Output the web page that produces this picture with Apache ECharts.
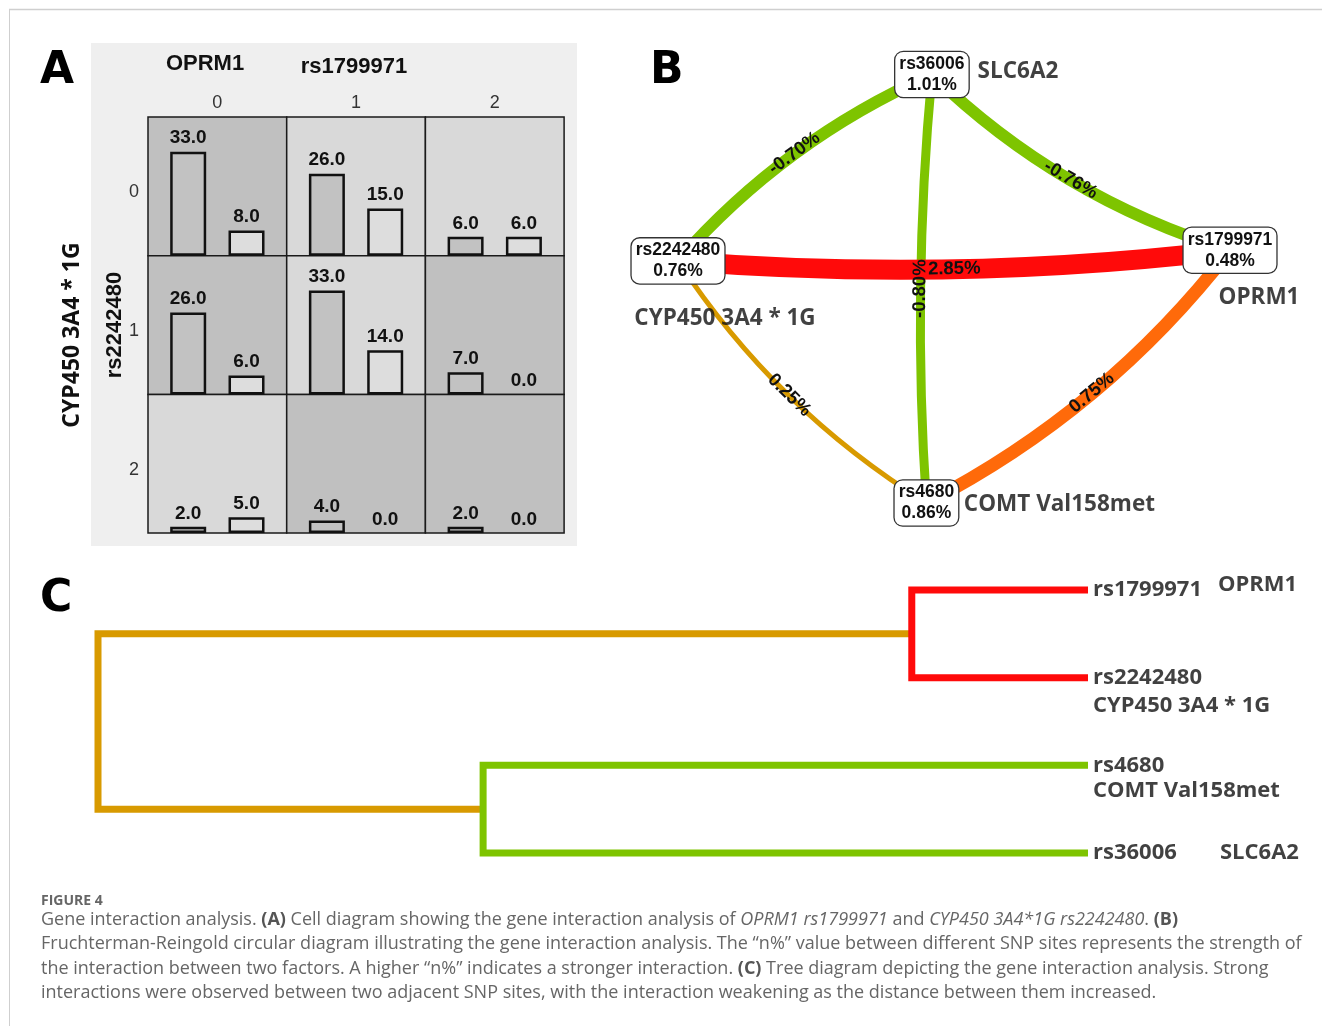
<!DOCTYPE html>
<html>
<head>
<meta charset="utf-8">
<script src="https://cdn.jsdelivr.net/npm/echarts@6/dist/echarts.min.js"></script>
<style>
  html, body { margin: 0; padding: 0; background: #ffffff; }
  #chart { width: 1322px; height: 1026px; }
</style>
</head>
<body>
<div id="chart"></div>
<script>
// ---- Panel A: case / control counts for each genotype combination ----
const rs1799971Genotypes = ['0', '1', '2'];          // columns (OPRM1)
const rs2242480Genotypes = ['0', '1', '2'];          // rows (CYP450 3A4*1G)
const caseCounts    = [[33, 26, 6], [26, 33, 7], [2, 4, 2]];
const controlCounts = [[8, 15, 6], [6, 14, 0], [5, 0, 0]];

// ---- Panel B: interaction network ----
const snpIds     = ['rs36006', 'rs2242480', 'rs1799971', 'rs4680'];
const snpGenes   = ['SLC6A2', 'CYP450 3A4 * 1G', 'OPRM1', 'COMT Val158met'];
const snpEntropy = [1.01, 0.76, 0.48, 0.86];
const nodeCircleX = [-0.08, -1.0, 1.0, -0.10];
const nodeCircleY = [1.0, 0.13, 0.18, -1.0];
const linkSource  = ['rs2242480', 'rs36006', 'rs36006', 'rs2242480', 'rs2242480', 'rs1799971'];
const linkTarget  = ['rs36006', 'rs1799971', 'rs4680', 'rs1799971', 'rs4680', 'rs4680'];
const linkEntropy = [-0.70, -0.76, -0.80, 2.85, 0.25, 0.75];

// ---- Panel C: dendrogram ----
const leafIds      = ['rs1799971', 'rs2242480', 'rs4680', 'rs36006'];
const leafGenes    = ['OPRM1', 'CYP450 3A4 * 1G', 'COMT Val158met', 'SLC6A2'];
const mergeHeights = [0.178, 0.611, 1.0];   // {rs1799971, rs2242480}, {rs4680, rs36006}, root

// ---------------- styling ----------------
const ARIAL = 'Liberation Sans';
const HEAVY = 'Open Sans';
const RED = '#ff0a0a', GREEN = '#7ec400', GOLD = '#d89a00', ORANGE = '#ff6a0a';

function interactionColor(v) {
  if (v < 0) return GREEN;
  if (v < 0.5) return GOLD;
  if (v < 1.5) return ORANGE;
  return RED;
}
const linkWidths = [12, 12, 9, 20, 5, 13];
const linkCurves = [0.11, -0.12, -0.04, -0.05, -0.11, 0.11];

const chart = echarts.init(document.getElementById('chart'), null, { renderer: 'canvas' });

const grids = [], xAxes = [], yAxes = [], series = [];

// Panel A cells
const totalCases = caseCounts.flat().reduce((a, b) => a + b, 0);
const totalControls = controlCounts.flat().reduce((a, b) => a + b, 0);
const riskThreshold = totalCases / totalControls;
const cellSize = 138.7;
const cellLeft = 148, cellTop = 117;
const countMax = 44;
const barLabel = {
  show: true, position: 'top', distance: 4,
  fontFamily: ARIAL, fontWeight: 'bold', fontSize: 19, color: '#111',
  formatter: p => Number(p.value).toFixed(1)
};

rs2242480Genotypes.forEach((rowG, r) => {
  rs1799971Genotypes.forEach((colG, c) => {
    const idx = grids.length;
    const ca = caseCounts[r][c], co = controlCounts[r][c];
    const highRisk = co === 0 ? ca > 0 : ca / co > riskThreshold;
    grids.push({
      left: cellLeft + c * cellSize, top: cellTop + r * cellSize,
      width: cellSize, height: cellSize,
      show: true, backgroundColor: highRisk ? '#c0c0c0' : '#d9d9d9',
      borderColor: '#1a1a1a', borderWidth: 1.5
    });
    xAxes.push({
      gridIndex: idx, type: 'category', data: [colG], position: 'top',
      axisLine: { show: false }, axisTick: { show: false }, splitLine: { show: false },
      axisLabel: { show: r === 0, fontFamily: ARIAL, fontSize: 18, color: '#333', margin: 5 }
    });
    yAxes.push({
      gridIndex: idx, type: 'value', min: 0, max: countMax,
      axisLine: { show: false }, axisTick: { show: false }, axisLabel: { show: false },
      splitLine: { show: false },
      name: c === 0 ? rowG : '', nameLocation: 'middle', nameRotate: 0, nameGap: 9,
      nameTextStyle: { fontFamily: ARIAL, fontSize: 18, color: '#333', align: 'right', verticalAlign: 'top', lineHeight: 12 }
    });
    [[ca, '#c2c2c2'], [co, '#dddddd']].forEach(([v, fill]) => {
      series.push({
        type: 'bar', xAxisIndex: idx, yAxisIndex: idx,
        barWidth: 36, barGap: '62%', silent: true,
        itemStyle: { color: fill, borderColor: '#111', borderWidth: 2.5 },
        label: barLabel,
        data: [{ value: v, itemStyle: { borderWidth: v > 0 ? 2.5 : 0 } }]
      });
    });
  });
});

// Panel B network on a hidden cartesian frame
const netGrid = grids.length;
grids.push({ left: 678, top: 74.5, width: 552, height: 428.5, show: false });
xAxes.push({ gridIndex: netGrid, type: 'value', min: -1, max: 1, show: false });
yAxes.push({ gridIndex: netGrid, type: 'value', min: -1, max: 1, show: false });

series.push({
  type: 'graph', coordinateSystem: 'cartesian2d',
  xAxisIndex: netGrid, yAxisIndex: netGrid,
  symbol: 'circle', symbolSize: 1, silent: true, z: 3,
  itemStyle: { color: 'rgba(0,0,0,0)' },
  label: {
    show: true, position: 'inside',
    fontFamily: ARIAL, fontWeight: 'bold', fontSize: 17.5, lineHeight: 21, color: '#111',
    backgroundColor: '#ffffff', borderColor: '#333', borderWidth: 1.3, borderRadius: 8,
    padding: [2, 4, 1, 4],
    formatter: p => snpIds[p.dataIndex] + '\n' + snpEntropy[p.dataIndex].toFixed(2) + '%'
  },
  edgeLabel: {
    show: true, position: 'middle', distance: -9,
    fontFamily: ARIAL, fontWeight: 'bold', fontSize: 18.5, color: '#111',
    formatter: p => p.data.value.toFixed(2) + '%'
  },
  data: snpIds.map((id, i) => ({ name: id, value: [nodeCircleX[i], nodeCircleY[i]] })),
  links: linkEntropy.map((v, i) => ({
    source: linkSource[i], target: linkTarget[i], value: v,
    lineStyle: { color: interactionColor(v), width: linkWidths[i], curveness: linkCurves[i], opacity: 1 }
  }))
});

const netGeneOffsets = {
  'SLC6A2': [86, -3], 'CYP450 3A4 * 1G': [47, 58], 'OPRM1': [29, 47], 'COMT Val158met': [133, 2]
};
series.push({
  type: 'scatter', xAxisIndex: netGrid, yAxisIndex: netGrid,
  symbolSize: 0, silent: true, z: 4,
  label: {
    show: true, position: 'inside', fontFamily: HEAVY, fontWeight: 'bold',
    fontSize: 22.5, color: '#111', formatter: p => snpGenes[p.dataIndex]
  },
  data: snpGenes.map((g, i) => ({
    value: [nodeCircleX[i], nodeCircleY[i]], label: { offset: netGeneOffsets[g] }
  }))
});

// Panel C dendrogram
const treeGrid = grids.length;
grids.push({ left: 98, top: 590, width: 990, height: 263, show: false });
xAxes.push({ gridIndex: treeGrid, type: 'value', min: 0, max: mergeHeights[2], inverse: true, show: false });
yAxes.push({ gridIndex: treeGrid, type: 'value', min: 0, max: leafIds.length - 1, inverse: true, show: false });

const [h1, h2, hRoot] = mergeHeights;
const treeLine = (data, color) => ({
  type: 'line', xAxisIndex: treeGrid, yAxisIndex: treeGrid, data, symbol: 'none',
  clip: false, silent: true,
  lineStyle: { color, width: 7, cap: 'butt', join: 'miter' }
});
series.push(treeLine([[h1, 0.5], [hRoot, 0.5], [hRoot, 2.5], [h2, 2.5]], GOLD));
series.push(treeLine([[0, 0], [h1, 0], [h1, 1], [0, 1]], RED));
series.push(treeLine([[0, 2], [h2, 2], [h2, 3], [0, 3]], GREEN));

const treeLabelFont = { fontFamily: HEAVY, fontWeight: 'bold', fontSize: 22, color: '#111' };
series.push({
  type: 'scatter', xAxisIndex: treeGrid, yAxisIndex: treeGrid, symbolSize: 0, silent: true,
  label: Object.assign({ show: true, position: 'right', distance: 5, formatter: p => leafIds[p.dataIndex] }, treeLabelFont),
  data: leafIds.map((id, i) => [0, i])
});
const treeGeneLayout = {
  'OPRM1': { distance: 130, offset: [0, -5] },
  'CYP450 3A4 * 1G': { distance: 5, offset: [0, 28] },
  'COMT Val158met': { distance: 5, offset: [0, 25] },
  'SLC6A2': { distance: 132, offset: [0, 0] }
};
series.push({
  type: 'scatter', xAxisIndex: treeGrid, yAxisIndex: treeGrid, symbolSize: 0, silent: true,
  label: Object.assign({ show: true, position: 'right', formatter: p => leafGenes[p.dataIndex] }, treeLabelFont),
  data: leafGenes.map((g, i) => ({ value: [0, i], label: treeGeneLayout[g] }))
});

// Free text: panel letters, axis titles, caption
const letter = (t, x, y) => ({
  type: 'text', x, y, style: { text: t, font: 'bold 44px "DejaVu Sans"', fill: '#000', textVerticalAlign: 'middle' }
});
const captionRich = {
  b: { fontFamily: 'Open Sans', fontWeight: 'bold', fontSize: 18, fill: '#555', color: '#555' },
  i: { fontFamily: 'Open Sans', fontStyle: 'italic', fontSize: 18, fill: '#666', color: '#666' }
};
const captionLines = [
  'Gene interaction analysis. {b|(A)} Cell diagram showing the gene interaction analysis of {i|OPRM1 rs1799971} and {i|CYP450 3A4*1G rs2242480}. {b|(B)}',
  'Fruchterman-Reingold circular diagram illustrating the gene interaction analysis. The \u201cn%\u201d value between different SNP sites represents the strength of',
  'the interaction between two factors. A higher \u201cn%\u201d indicates a stronger interaction. {b|(C)} Tree diagram depicting the gene interaction analysis. Strong',
  'interactions were observed between two adjacent SNP sites, with the interaction weakening as the distance between them increased.'
];

const graphics = [
  { type: 'rect', z: -100, shape: { x: 91, y: 43, width: 486, height: 503 }, style: { fill: '#efefef' } },
  { type: 'line', shape: { x1: 9, y1: 9.5, x2: 1322, y2: 9.5 }, style: { stroke: '#cfcfcf', lineWidth: 1.5 } },
  { type: 'line', shape: { x1: 9.5, y1: 9, x2: 9.5, y2: 1026 }, style: { stroke: '#cfcfcf', lineWidth: 1 } },
  letter('A', 40, 72), letter('B', 650, 72), letter('C', 40, 600),
  { type: 'text', x: 205, y: 64, style: { text: 'OPRM1', font: 'bold 22px "Liberation Sans"', fill: '#111', textAlign: 'center', textVerticalAlign: 'middle' } },
  { type: 'text', x: 354, y: 67, style: { text: 'rs1799971', font: 'bold 22px "Liberation Sans"', fill: '#111', textAlign: 'center', textVerticalAlign: 'middle' } },
  { type: 'text', x: 115, y: 325, rotation: Math.PI / 2, style: { text: 'rs2242480', font: 'bold 22px "Liberation Sans"', fill: '#111', textAlign: 'center', textVerticalAlign: 'middle' } },
  { type: 'text', x: 72, y: 335, rotation: Math.PI / 2, style: { text: 'CYP450 3A4 * 1G', font: 'bold 23px "Open Sans"', fill: '#111', textAlign: 'center', textVerticalAlign: 'middle' } },
  { type: 'text', x: 41, y: 901, style: { text: 'FIGURE 4', font: 'bold 14px "Open Sans"', fill: '#666', textVerticalAlign: 'middle' } }
];
captionLines.forEach((line, k) => {
  graphics.push({
    type: 'text', x: 41, y: 920 + k * 24.3,
    style: { text: line, font: '18px "Open Sans"', fill: '#666', textVerticalAlign: 'middle', rich: captionRich }
  });
});

chart.setOption({
  animation: false,
  backgroundColor: '#ffffff',
  grid: grids, xAxis: xAxes, yAxis: yAxes, series,
  graphic: graphics
});
</script>
</body>
</html>
